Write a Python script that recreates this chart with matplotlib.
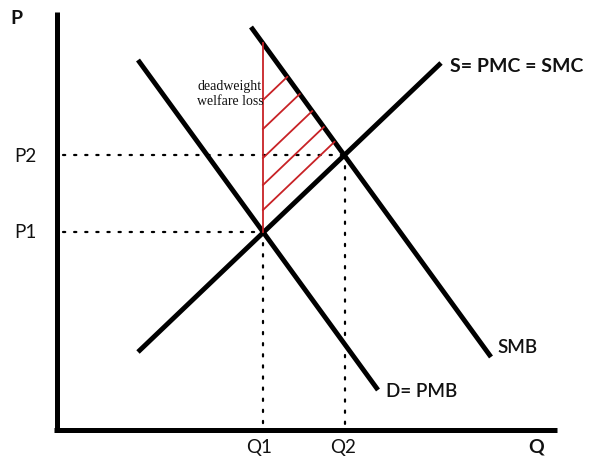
import matplotlib
matplotlib.use("Agg")
import matplotlib.pyplot as plt
import numpy as np

# ---- data (Q, P) in chart units; origin at axes corner ----
supply_q = [81, 384]
supply_p = [78, 367]
demand_q = [81, 321]
demand_p = [370, 40]
smb_q = [194, 434]
smb_p = [403, 73]
q_eq = [206, 288]           # Q1, Q2
p_eq = [198, 275]           # P1, P2
hatch_offsets = [22, 47, 74, 103, 132]   # heights above P1 on Q1 where hatch lines start
axis_q_max = 500
axis_p_max = 418

labels_p = ["P1", "P2"]
labels_q = ["Q1", "Q2"]

FONT = ["Lato", "DejaVu Sans"]
INK = "#111111"

fig = plt.figure(figsize=(5.96, 4.61), dpi=100)
ax = fig.add_axes([0, 0, 1, 1])
ax.set_xlim(-57, 539)
ax.set_ylim(-31, 430)
ax.axis("off")

# axes lines
ax.plot([0, 0], [0, axis_p_max], color="black", lw=3.6, solid_capstyle="butt")
ax.plot([-3, axis_q_max], [0, 0], color="black", lw=3.6, solid_capstyle="butt")

# dotted guide lines
dot = dict(color="black", lw=1.6, linestyle=(0, (1, 4)), dash_capstyle="round")
for q, p in zip(q_eq, p_eq):
    ax.plot([6, q], [p, p], **dot)
    ax.plot([q, q], [p, 3], **dot)

# curves
lw = 3.5
ax.plot(supply_q, supply_p, color="black", lw=lw, solid_capstyle="butt")
ax.plot(demand_q, demand_p, color="black", lw=lw, solid_capstyle="butt")
ax.plot(smb_q, smb_p, color="black", lw=lw, solid_capstyle="butt")

# deadweight hatch
s_slope = (supply_p[1] - supply_p[0]) / (supply_q[1] - supply_q[0])
m_slope = (smb_p[1] - smb_p[0]) / (smb_q[1] - smb_q[0])
q1, p1 = q_eq[0], p_eq[0]
smb_at_q1 = smb_p[0] + m_slope * (q1 - smb_q[0])
ax.plot([q1, q1], [p1, smb_at_q1], color="#c82226", lw=1.3)
for off in hatch_offsets:
    p0 = p1 + off
    t = (smb_at_q1 - p0) / (s_slope - m_slope)
    ax.plot([q1, q1 + t], [p0, p0 + s_slope * t], color="#c82226", lw=1.3)

# text
ax.text(-40.5, 411, "P", fontsize=14, fontweight="bold", family=FONT, color=INK,
        ha="center", va="center")
for p, lab in zip(p_eq, labels_p):
    ax.text(-31.5, p - 1, lab, fontsize=13.5, family=FONT, color=INK, ha="center", va="center")
for q, lab in zip(q_eq, labels_q):
    ax.text(q - 4 + (2 if lab == "Q2" else 0), -17, lab, fontsize=13.5, family=FONT, color=INK,
            ha="center", va="center")
ax.text(479, -17, "Q", fontsize=14, fontweight="bold", family=FONT, color=INK,
        ha="center", va="center")
ax.text(393, 363.5, "S= PMC = SMC", fontsize=14, fontweight="bold", family=FONT, color=INK,
        ha="left", va="center")
ax.text(440, 82.5, "SMB", fontsize=13.5, fontweight="semibold", family=FONT, color=INK,
        ha="left", va="center")
ax.text(329, 38.5, "D= PMB", fontsize=13.5, fontweight="semibold", family=FONT, color=INK,
        ha="left", va="center")
ax.text(173, 336, "deadweight\nwelfare loss", fontsize=10, family=["Liberation Serif"],
        color="#111111", ha="center", va="center", multialignment="center", linespacing=1.2)

fig.savefig("out.png", dpi=100)
